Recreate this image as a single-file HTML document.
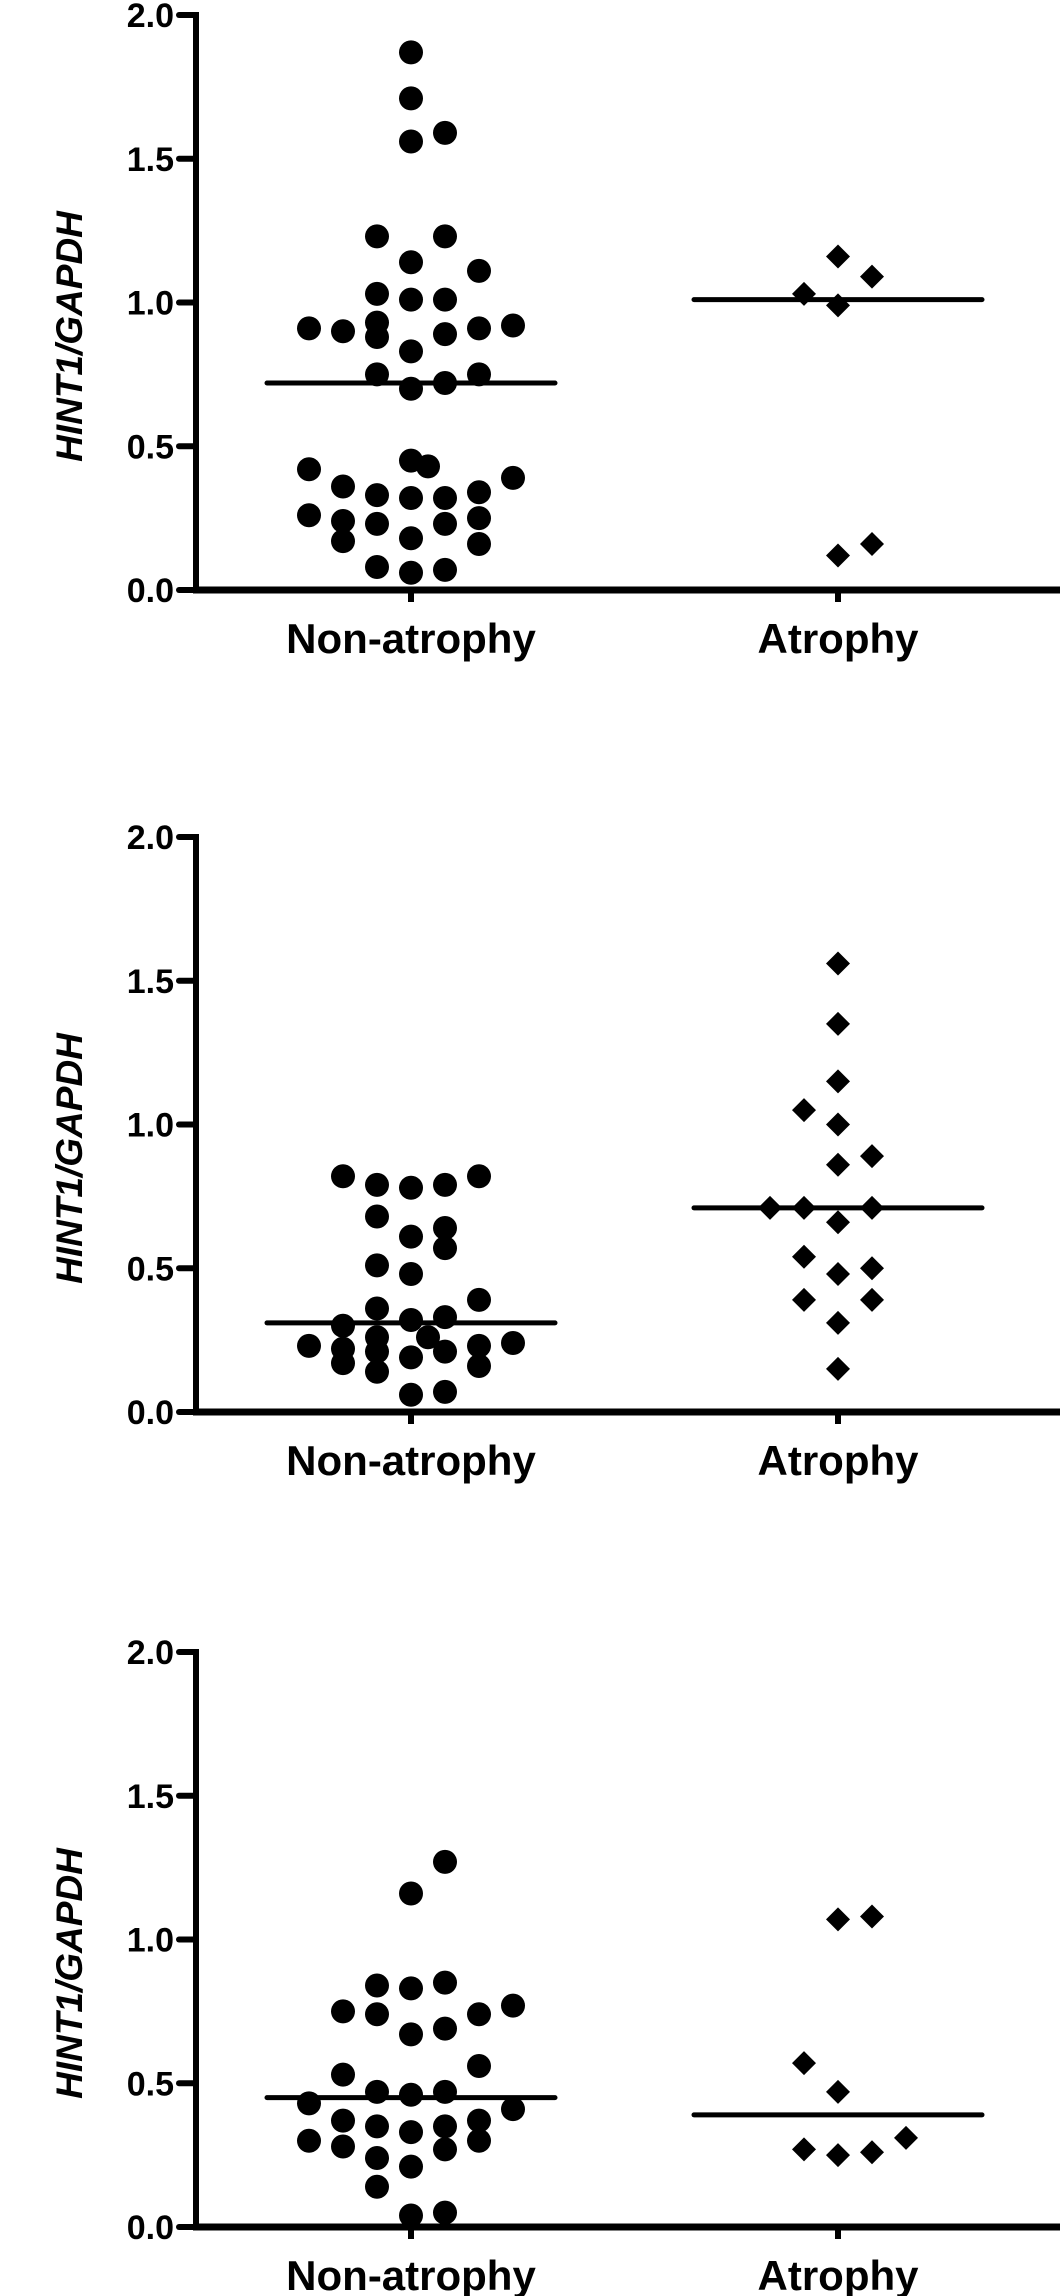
<!DOCTYPE html>
<html><head><meta charset="utf-8"><style>
html,body{margin:0;padding:0;background:#fff;}
svg{display:block;}
text{font-family:"Liberation Sans",Arial,sans-serif;font-weight:bold;fill:#000;}
</style></head>
<body>
<svg id="chart" width="1063" height="2296" viewBox="0 0 1063 2296" xmlns="http://www.w3.org/2000/svg"></svg>
<script>
// ---- data (values = HINT1/GAPDH ratio; col = horizontal jitter column) ----
const categories = ["Non-atrophy", "Atrophy"];
const yTicks = [0.0, 0.5, 1.0, 1.5, 2.0];
const yTickLabels = ["0.0", "0.5", "1.0", "1.5", "2.0"];

const p1NonVals = [1.87,1.71,1.56,1.59,1.23,1.23,1.14,1.11,1.03,1.01,1.01,0.91,0.90,0.93,0.88,0.89,0.91,0.92,0.83,0.75,0.75,0.70,0.72,0.45,0.43,0.42,0.36,0.39,0.33,0.32,0.32,0.34,0.26,0.24,0.23,0.23,0.25,0.17,0.18,0.16,0.08,0.06,0.07];
const p1NonCols = [0,0,0,1,-1,1,0,2,-1,0,1,-3,-2,-1,-1,1,2,3,0,-1,2,0,1,0,0.5,-3,-2,3,-1,0,1,2,-3,-2,-1,1,2,-2,0,2,-1,0,1];
const p1AtrVals = [1.16,1.09,1.03,0.99,0.12,0.16];
const p1AtrCols = [0,1,-1,0,0,1];
const p1Means = [0.72, 1.01];

const p2NonVals = [0.82,0.79,0.78,0.79,0.82,0.68,0.61,0.64,0.57,0.51,0.48,0.39,0.36,0.33,0.32,0.30,0.23,0.22,0.17,0.26,0.21,0.14,0.26,0.21,0.19,0.23,0.16,0.24,0.06,0.07];
const p2NonCols = [-2,-1,0,1,2,-1,0,1,1,-1,0,2,-1,1,0,-2,-3,-2,-2,-1,-1,-1,0.5,1,0,2,2,3,0,1];
const p2AtrVals = [1.56,1.35,1.15,1.05,1.00,0.89,0.86,0.71,0.71,0.71,0.66,0.54,0.48,0.50,0.39,0.39,0.31,0.15];
const p2AtrCols = [0,0,0,-1,0,1,0,-2,-1,1,0,-1,0,1,-1,1,0,0];
const p2Means = [0.31, 0.71];

const p3NonVals = [1.27,1.16,0.84,0.83,0.85,0.75,0.74,0.74,0.77,0.67,0.69,0.56,0.53,0.47,0.46,0.47,0.43,0.41,0.37,0.35,0.33,0.35,0.37,0.30,0.28,0.27,0.30,0.24,0.21,0.14,0.04,0.05];
const p3NonCols = [1,0,-1,0,1,-2,-1,2,3,0,1,2,-2,-1,0,1,-3,3,-2,-1,0,1,2,-3,-2,1,2,-1,0,-1,0,1];
const p3AtrVals = [1.07,1.08,0.57,0.47,0.27,0.25,0.26,0.31];
const p3AtrCols = [0,1,-1,0,-1,0,1,2];
const p3Means = [0.45, 0.39];

const panels = [
  {top:15,  nonVals:p1NonVals, nonCols:p1NonCols, atrVals:p1AtrVals, atrCols:p1AtrCols, means:p1Means},
  {top:837, nonVals:p2NonVals, nonCols:p2NonCols, atrVals:p2AtrVals, atrCols:p2AtrCols, means:p2Means},
  {top:1652,nonVals:p3NonVals, nonCols:p3NonCols, atrVals:p3AtrVals, atrCols:p3AtrCols, means:p3Means}
];

const NS = "http://www.w3.org/2000/svg";
const svg = document.getElementById("chart");
const AXIS_X = 196, AXIS_RIGHT = 1060, PX_PER_UNIT = 287.5;
const catX = [411, 838];
const COL_W = 34, MEAN_HALF = 144;

function mk(tag, attrs, parent){
  const e = document.createElementNS(NS, tag);
  for (const k in attrs) e.setAttribute(k, attrs[k]);
  (parent||svg).appendChild(e);
  return e;
}

panels.forEach((p, pi) => {
  const g = mk("g", {});
  
  
  const y0 = p.top + 2*PX_PER_UNIT;
  const yS = v => y0 - v*PX_PER_UNIT;
  const xS = (ci, col) => catX[ci] + col*COL_W;

  const ya = mk("line", {x1:AXIS_X, y1:yS(2.0)-3, x2:AXIS_X, y2:y0+3, stroke:"#000","stroke-width":6}, g);
  
  
  yTicks.forEach((t, i) => {
    const tk = mk("line", {x1:179, y1:yS(t), x2:AXIS_X, y2:yS(t), stroke:"#000","stroke-width":6,"stroke-linecap":"round"}, g);
    
    
    const tl = mk("text", {x:174, y:yS(t)+12, "text-anchor":"end","font-size":34}, g);
    tl.textContent = yTickLabels[i];
    
    
  });
  const xa = mk("line", {x1:AXIS_X-3, y1:y0, x2:AXIS_RIGHT, y2:y0, stroke:"#000","stroke-width":7}, g);
  
  
  categories.forEach((c, ci) => {
    const tk = mk("line", {x1:catX[ci], y1:y0, x2:catX[ci], y2:y0+12, stroke:"#000","stroke-width":6}, g);
    
    
    const tl = mk("text", {x:catX[ci], y:y0+63, "text-anchor":"middle","font-size":42}, g);
    tl.textContent = c;
    
    
  });
  const cy = (p.top + y0)/2 + 34;
  const yt = mk("text", {x:0, y:0, "text-anchor":"middle","font-size":37,"font-style":"italic",
    transform:`translate(82,${cy}) rotate(-90)`}, g);
  yt.textContent = "HINT1/GAPDH";
  
  

  p.nonVals.forEach((v, i) => {
    const c = mk("circle", {cx:xS(0, p.nonCols[i]), cy:yS(v), r:12, fill:"#000"}, g);
    
    
  });
  p.atrVals.forEach((v, i) => {
    const x = xS(1, p.atrCols[i]), y = yS(v), s = 12;
    const d = mk("polygon", {points:`${x},${y-s} ${x+s},${y} ${x},${y+s} ${x-s},${y}`, fill:"#000"}, g);
    
    
  });
  p.means.forEach((m, ci) => {
    const l = mk("line", {x1:catX[ci]-MEAN_HALF, y1:yS(m), x2:catX[ci]+MEAN_HALF, y2:yS(m), stroke:"#000","stroke-width":5,"stroke-linecap":"round"}, g);
    
    
  });
});
</script>
</body></html>
